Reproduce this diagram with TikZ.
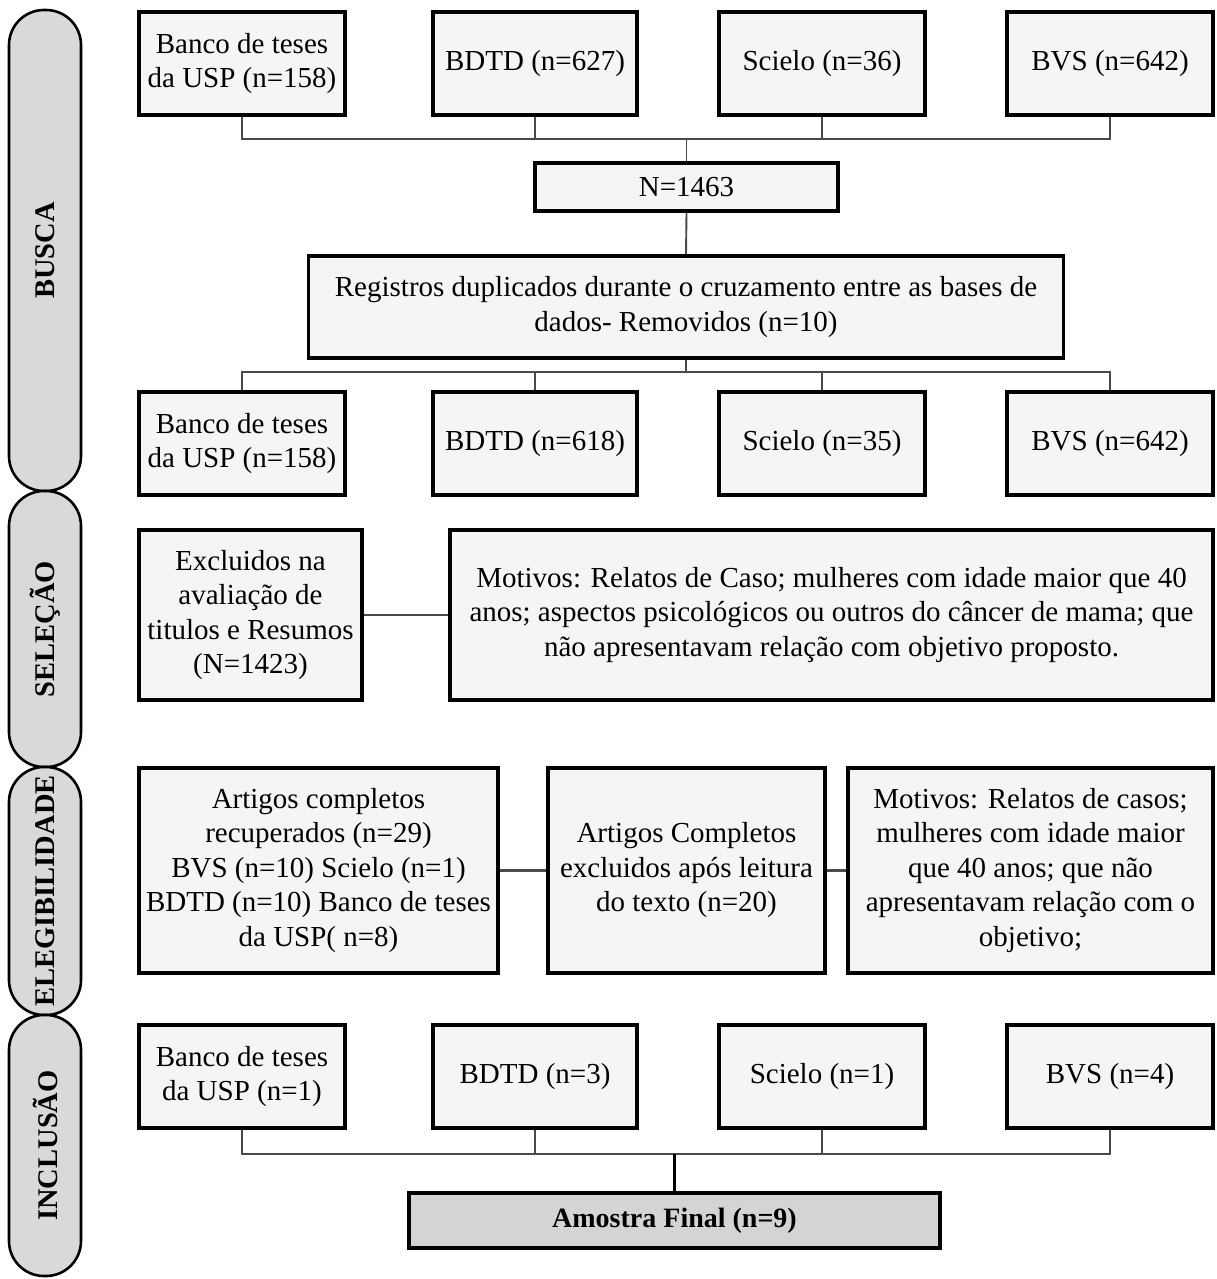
\documentclass[tikz,border=0pt]{standalone}
\usepackage{fontspec}
\setmainfont{Liberation Serif}
\pgfdeclarelayer{background}
\pgfsetlayers{background,main}
\definecolor{boxfill}{HTML}{F5F5F5}
\definecolor{pillfill}{HTML}{D9D9D9}
\definecolor{finalfill}{HTML}{D4D4D4}
\definecolor{conncol}{HTML}{4A4A4A}
\begin{document}
\begin{tikzpicture}[x=1pt,y=-1pt,
  box/.style={draw=black, line width=3.4pt, fill=boxfill, align=center, inner sep=0pt,
    font=\fontsize{29}{34.5}\selectfont},
  colbox/.style={box, minimum width=206pt, minimum height=103pt},
  pill/.style={draw=black, line width=2.6pt, fill=pillfill, rounded corners=35pt,
    inner sep=0pt, rotate=90, minimum height=72pt, font=\bfseries\fontsize{28.5}{30}\selectfont},
  conn/.style={draw=conncol, line width=1.9pt},
  sideconn/.style={draw=conncol, line width=2.8pt},
  stemconn/.style={draw=black, line width=3.2pt}]
\useasboundingbox (0,0) rectangle (1217,1279);
\begin{pgfonlayer}{background}
\fill[white] (0,0) rectangle (1217,1279);
\end{pgfonlayer}

% phase pills
\node[pill, minimum width=481pt] (busca) at (45,250.5) {BUSCA};
\node[pill, minimum width=276pt] (selecao) at (45,629) {SELEÇÃO};
\node[pill, minimum width=248pt] (eleg) at (45,891) {ELEGIBILIDADE};
\node[pill, minimum width=261pt] (inclusao) at (45,1145.5) {INCLUSÃO};

% row 1
\node[colbox] (a1) at (242,63.5) {Banco de teses\\da USP (n=158)};
\node[colbox, minimum width=204pt] (a2) at (535,63.5) {BDTD (n=627)};
\node[colbox] (a3) at (822,63.5) {Scielo (n=36)};
\node[colbox] (a4) at (1110,63.5) {BVS (n=642)};

\node[box, minimum width=303pt, minimum height=48pt] (n) at (686.5,187) {N=1463};
\node[box, minimum width=755pt, minimum height=102pt] (reg) at (686,307)
  {Registros duplicados durante o cruzamento entre as bases de\\dados- Removidos (n=10)};

% row 2
\node[colbox] (b1) at (242,443.5) {Banco de teses\\da USP (n=158)};
\node[colbox, minimum width=204pt] (b2) at (535,443.5) {BDTD (n=618)};
\node[colbox] (b3) at (822,443.5) {Scielo (n=35)};
\node[colbox] (b4) at (1110,443.5) {BVS (n=642)};

% selecao
\node[box, minimum width=223pt, minimum height=170pt] (c1) at (250.5,615)
  {Excluidos na\\avaliação de\\titulos e Resumos\\(N=1423)};
\node[box, minimum width=763pt, minimum height=170pt] (c2) at (831.5,615)
  {Motivos: Relatos de Caso; mulheres com idade maior que 40\\anos; aspectos psicológicos ou outros do câncer de mama; que\\não apresentavam relação com objetivo proposto.};

% elegibilidade
\node[box, minimum width=359pt, minimum height=205pt] (d1) at (318.5,870.5)
  {Artigos completos\\recuperados (n=29)\\BVS (n=10) Scielo (n=1)\\BDTD (n=10) Banco de teses\\da USP( n=8)};
\node[box, minimum width=277pt, minimum height=205pt] (d2) at (686.5,870.5)
  {Artigos Completos\\excluidos após leitura\\do texto (n=20)};
\node[box, minimum width=365pt, minimum height=205pt] (d3) at (1030.5,870.5)
  {Motivos: Relatos de casos;\\mulheres com idade maior\\que 40 anos; que não\\apresentavam relação com o\\objetivo;};

% inclusao
\node[colbox] (e1) at (242,1076.5) {Banco de teses\\da USP (n=1)};
\node[colbox, minimum width=204pt] (e2) at (535,1076.5) {BDTD (n=3)};
\node[colbox] (e3) at (822,1076.5) {Scielo (n=1)};
\node[colbox] (e4) at (1110,1076.5) {BVS (n=4)};

\node[box, fill=finalfill, minimum width=531pt, minimum height=55pt,
  font=\bfseries\fontsize{28}{34}\selectfont] (final) at (674.5,1220.5) {Amostra Final (n=9)};

\begin{pgfonlayer}{background}
  \coordinate (j1) at (686.5,139);
  \draw[conn] (a1.south) |- (a4.south |- j1) -- (a4.south);
  \draw[conn] (a2.south) -- (a2.south |- j1);
  \draw[conn] (a3.south) -- (a3.south |- j1);
  \draw[conn] (j1) -- (n.north);
  \draw[conn] (n.south) -- (reg.north);

  \coordinate (j2) at (686,372);
  \draw[conn] (reg.south) -- (j2);
  \draw[conn] (b1.north) |- (b4.north |- j2) -- (b4.north);
  \draw[conn] (b2.north) -- (b2.north |- j2);
  \draw[conn] (b3.north) -- (b3.north |- j2);

  \draw[conn] (c1.east) -- (c2.west);
  \draw[sideconn] (d1.east) -- (d2.west);
  \draw[sideconn] (d2.east) -- (d3.west);

  \coordinate (j5) at (674.5,1154);
  \draw[conn] (e1.south) |- (e4.south |- j5) -- (e4.south);
  \draw[conn] (e2.south) -- (e2.south |- j5);
  \draw[conn] (e3.south) -- (e3.south |- j5);
  \draw[stemconn] (final.north) -- (j5);
\end{pgfonlayer}
\end{tikzpicture}
\end{document}
